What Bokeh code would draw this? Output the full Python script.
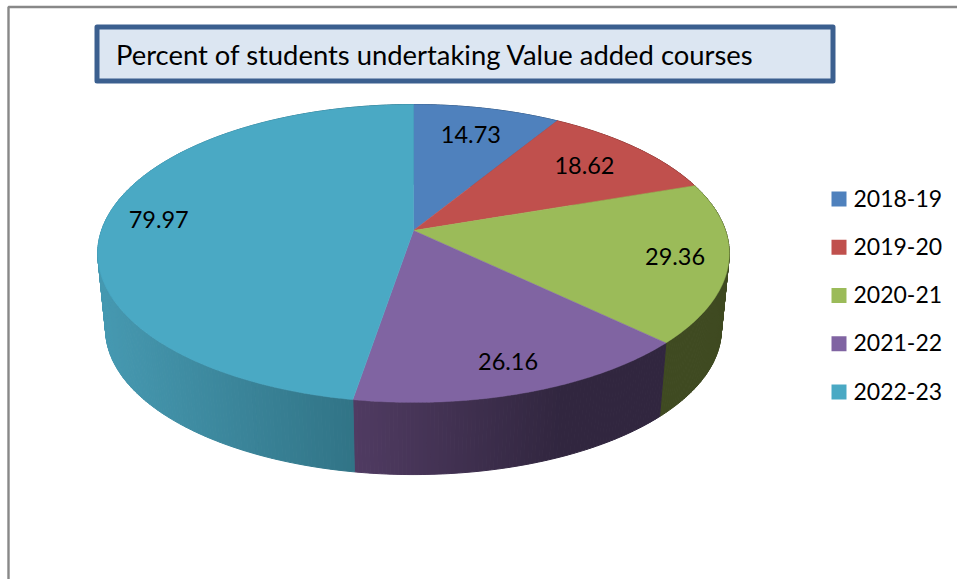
import math
from bokeh.plotting import figure
from bokeh.models import Range1d
from bokeh.core.properties import value
from bokeh.embed import file_html
from bokeh.resources import INLINE

# ---- data ----
categories = ["2018-19", "2019-20", "2020-21", "2021-22", "2022-23"]
values = [14.73, 18.62, 29.36, 26.16, 79.97]
title_text = "Percent of students undertaking Value added courses"

# ---- style ----
colors = ["#4F81BD", "#C0504D", "#9BBB59", "#8064A2", "#4AA9C4"]
# side shading (left colour, right colour, how fast it reaches the right colour)
side_colors = [("#2F4D71", "#2F4D71", 1.0), ("#73302E", "#73302E", 1.0), ("#3F4A21", "#3F4A21", 1.0),
               ("#503B62", "#31263F", 1.5), ("#4699B1", "#2C6B7C", 1.0)]
label_frac = [0.78, 0.77, 0.83, 0.82, 0.83]
FONT = "Lato"
LABEL_SIZE = "23.5px"
TITLE_SIZE = "27.4px"
LEGEND_SIZE = "23px"

# projection of the tilted disc onto the page
CX, CY = 413.0, 230.0
K, A, B = 0.154, 312.0, 145.4
SCALE_BOTTOM, BOTTOM_Y = 0.975, 306.5
TEXT_NUDGE = -1.0


def rim(t, scale=1.0, apex_y=CY, f=1.0):
    u, v = math.sin(t), math.cos(t)
    den = 1 + K * v
    return CX + scale * f * A * u / den, apex_y - scale * f * B * v / den


def mix(c1, c2, f):
    a = [int(c1[i:i + 2], 16) for i in (1, 3, 5)]
    b = [int(c2[i:i + 2], 16) for i in (1, 3, 5)]
    return "#%02x%02x%02x" % tuple(round(x + (y - x) * f) for x, y in zip(a, b))


p = figure(width=957, height=579, output_backend="svg", toolbar_location=None,
           x_range=Range1d(0, 957), y_range=Range1d(579, 0),
           min_border=0, min_border_left=0, min_border_right=0,
           min_border_top=0, min_border_bottom=0,
           background_fill_color="white", border_fill_color="white", outline_line_color=None)
p.axis.visible = False
p.grid.visible = False

# outer frame
p.line([8, 8, 957], [579, 6.5, 6.5], line_color="#888888", line_width=2.4)

total = sum(values)
angles = [0.0]
for v in values:
    angles.append(angles[-1] + v / total * 2 * math.pi)

# sides, as thin shaded strips
for i in range(len(values)):
    a0, a1 = angles[i], angles[i + 1]
    n = max(2, int((a1 - a0) * 90))
    strip_x, strip_y, strip_c = [], [], []
    xs_all = [rim(a0 + (a1 - a0) * j / n)[0] for j in range(n + 1)]
    lo, hi = min(xs_all), max(xs_all)
    for j in range(n):
        t0 = a0 + (a1 - a0) * j / n
        t1 = a0 + (a1 - a0) * (j + 1) / n
        x0, y0 = rim(t0)
        x1, y1 = rim(t1)
        x2, y2 = rim(t1, SCALE_BOTTOM, BOTTOM_Y)
        x3, y3 = rim(t0, SCALE_BOTTOM, BOTTOM_Y)
        strip_x.append([x0, x1, x2, x3])
        strip_y.append([y0, y1, y2, y3])
        f = ((x0 + x1) / 2 - lo) / (hi - lo) if hi > lo else 0
        strip_c.append(mix(side_colors[i][0], side_colors[i][1], min(1.0, f * side_colors[i][2])))
    p.patches(strip_x, strip_y, fill_color=strip_c, line_color=strip_c, line_width=1)

# top faces
for i in range(len(values)):
    a0, a1 = angles[i], angles[i + 1]
    n = max(8, int((a1 - a0) * 90))
    pts = [rim(a0 + (a1 - a0) * j / n) for j in range(n + 1)]
    xs = [CX] + [q[0] for q in pts]
    ys = [CY] + [q[1] for q in pts]
    p.patch(xs, ys, fill_color=colors[i], line_color=colors[i], line_width=0.5)

# value labels
for i, v in enumerate(values):
    mid = (angles[i] + angles[i + 1]) / 2
    x, y = rim(mid, f=label_frac[i])
    p.text([x], [y + TEXT_NUDGE], text=[f"{v:.2f}"], text_align="center", text_baseline="middle",
           text_font=value(FONT), text_font_size=LABEL_SIZE, text_color="#000000")

# title box
p.quad(left=[96.5], right=[832.5], top=[26.5], bottom=[80.5], fill_color="#DCE6F2",
       line_color="#3B5F8F", line_width=5, line_join="round")
p.text([115.5], [55 + TEXT_NUDGE], text=[title_text], text_align="left", text_baseline="middle",
       text_font=value(FONT), text_font_size=TITLE_SIZE, text_color="#000000")

# legend
LEG_TOP, LEG_STEP, LEG_BOX = 191.0, 48.25, 15.0
for i, c in enumerate(categories):
    top = LEG_TOP + i * LEG_STEP
    p.quad(left=[831], right=[831 + LEG_BOX], top=[top], bottom=[top + LEG_BOX],
           fill_color=colors[i], line_color=None)
    p.text([853], [top + LEG_BOX / 2 + TEXT_NUDGE], text=[c], text_align="left", text_baseline="middle",
           text_font=value(FONT), text_font_size=LEGEND_SIZE, text_color="#000000")

open("out.html", "w").write(file_html(p, INLINE))
